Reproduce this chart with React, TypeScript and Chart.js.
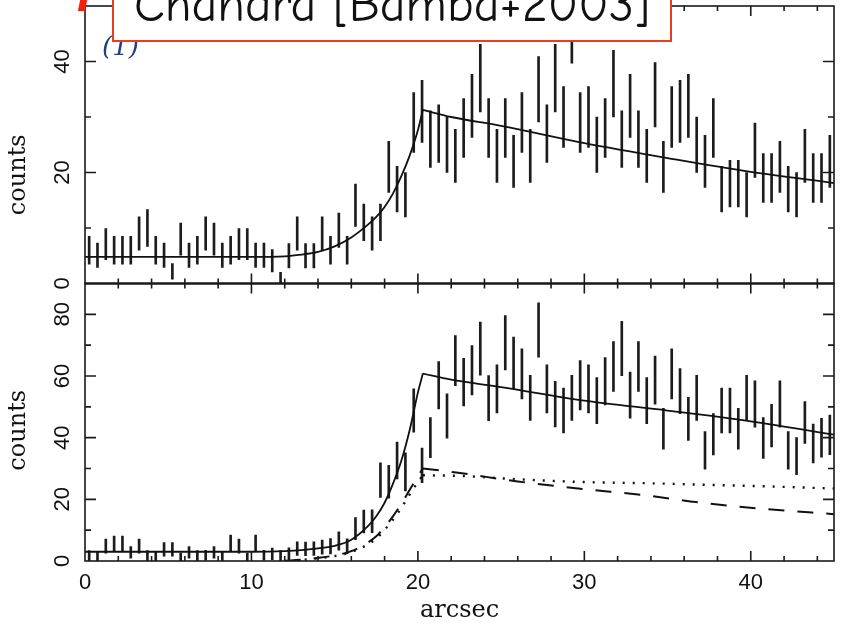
import React, { useEffect, useRef } from 'react';
import { Chart, registerables } from 'chart.js';

Chart.register(...registerables);

// ---- data ----
const binCenters = [
  0.25, 0.75, 1.25, 1.75, 2.25, 2.75, 3.25, 3.75, 4.25, 4.75,
  5.25, 5.75, 6.25, 6.75, 7.25, 7.75, 8.25, 8.75, 9.25, 9.75,
  10.25, 10.75, 11.25, 11.75, 12.25, 12.75, 13.25, 13.75, 14.25, 14.75,
  15.25, 15.75, 16.25, 16.75, 17.25, 17.75, 18.25, 18.75, 19.25, 19.75,
  20.25, 20.75, 21.25, 21.75, 22.25, 22.75, 23.25, 23.75, 24.25, 24.75,
  25.25, 25.75, 26.25, 26.75, 27.25, 27.75, 28.25, 28.75, 29.25, 29.75,
  30.25, 30.75, 31.25, 31.75, 32.25, 32.75, 33.25, 33.75, 34.25, 34.75,
  35.25, 35.75, 36.25, 36.75, 37.25, 37.75, 38.25, 38.75, 39.25, 39.75,
  40.25, 40.75, 41.25, 41.75, 42.25, 42.75, 43.25, 43.75, 44.25, 44.75,
];

const topCounts = [
  6.0, 5.1, 7.1, 6.0, 6.0, 6.0, 9.0, 10.0, 6.0, 5.1,
  2.2, 8.0, 5.1, 6.0, 9.0, 8.0, 5.1, 6.0, 7.1, 7.1,
  5.1, 5.1, 4.1, 1.0, 5.0, 9.0, 5.0, 5.0, 9.0, 6.0,
  9.6, 6.0, 14.1, 11.0, 9.0, 11.0, 21.0, 17.0, 16.0, 29.0,
  31.0, 26.0, 27.0, 25.0, 23.0, 28.0, 32.0, 37.0, 28.0, 23.0,
  28.0, 22.0, 29.0, 23.0, 35.0, 27.0, 37.0, 30.0, 46.5, 29.0,
  30.0, 25.0, 28.0, 36.0, 26.0, 32.0, 26.0, 23.0, 34.0, 21.0,
  30.0, 31.0, 32.0, 25.0, 22.0, 28.0, 17.0, 18.0, 18.0, 16.0,
  24.0, 19.0, 19.0, 21.0, 17.0, 16.0, 23.0, 19.0, 19.0, 22.0,
];
const topErrors = [
  2.5, 2.2, 2.8, 2.5, 2.5, 2.5, 3.0, 3.3, 2.5, 2.2,
  1.4, 2.9, 2.2, 2.5, 3.0, 2.9, 2.2, 2.5, 2.8, 2.8,
  2.2, 2.2, 2.0, 1.0, 2.2, 3.0, 2.2, 2.2, 3.0, 2.5,
  3.1, 2.5, 3.8, 3.3, 3.0, 3.3, 4.6, 4.1, 4.0, 5.4,
  5.6, 5.1, 5.2, 5.0, 4.8, 5.3, 5.7, 6.1, 5.3, 4.8,
  5.3, 4.7, 5.4, 4.8, 5.9, 5.2, 6.1, 5.5, 6.8, 5.4,
  5.5, 5.0, 5.3, 6.0, 5.1, 5.7, 5.1, 4.8, 5.8, 4.6,
  5.5, 5.6, 5.7, 5.0, 4.7, 5.3, 4.1, 4.2, 4.2, 4.0,
  4.9, 4.4, 4.4, 4.6, 4.1, 4.0, 4.8, 4.4, 4.4, 4.7,
];

const bottomCounts = [
  1.7, 1.5, 4.8, 5.6, 5.6, 2.8, 4.8, 1.7, 1.5, 3.8,
  3.8, 1.3, 2.8, 1.7, 1.9, 2.8, 1.5, 5.7, 4.8, 1.3,
  5.7, 1.9, 2.3, 1.7, 2.3, 4.0, 3.9, 4.0, 4.5, 4.8,
  6.5, 4.8, 10.5, 12.8, 12.9, 26.2, 25.7, 32.6, 28.9, 48.8,
  31.0, 40.0, 57.0, 47.0, 65.0, 58.0, 61.9, 68.9, 52.8, 55.8,
  70.8, 64.2, 60.7, 52.9, 74.9, 55.8, 50.9, 48.8, 52.9, 57.0,
  55.8, 52.0, 58.3, 63.1, 68.9, 53.8, 63.1, 52.0, 58.7, 42.9,
  60.7, 55.1, 46.1, 52.9, 35.9, 41.1, 48.8, 48.8, 42.9, 52.9,
  50.9, 39.9, 43.9, 50.9, 35.9, 34.0, 44.9, 38.1, 40.0, 40.9,
];
const bottomErrors = [
  1.7, 1.4, 2.3, 2.5, 2.5, 1.9, 2.3, 1.7, 1.4, 2.2,
  2.2, 1.3, 1.9, 1.7, 1.6, 1.9, 1.5, 2.7, 2.3, 1.3,
  2.7, 1.6, 1.9, 1.7, 2.0, 2.2, 2.2, 2.2, 2.3, 2.5,
  3.0, 2.4, 3.6, 3.7, 3.7, 5.6, 5.3, 6.0, 6.2, 7.0,
  5.6, 6.5, 7.7, 7.2, 8.1, 7.7, 8.0, 8.6, 7.3, 7.8,
  8.8, 8.4, 8.1, 7.3, 8.8, 7.8, 7.4, 7.3, 7.3, 8.0,
  7.8, 7.5, 7.7, 8.1, 8.8, 7.5, 8.1, 7.5, 7.8, 6.6,
  8.1, 7.3, 7.0, 7.3, 6.1, 6.7, 7.3, 7.3, 6.6, 7.3,
  7.5, 6.6, 6.9, 7.5, 6.1, 6.0, 6.8, 6.3, 6.3, 6.4,
];

// model curves (rising part up to the rim, then falling part)
const topRiseX = [0, 10, 12, 13, 14, 15, 16, 17, 17.5, 18, 18.5, 19, 19.5, 20, 20.3];
const topRiseY = [4.8, 4.8, 4.9, 5.2, 5.7, 6.7, 8.3, 10.6, 12.0, 13.8, 16.2, 19.3, 23.0, 27.6, 31.3];
const topFallX = [20.3, 22, 25, 30, 35, 40, 45];
const topFallY = [31.3, 30.0, 28.4, 25.3, 22.6, 20.1, 18.1];

const botRiseX = [0, 10, 12, 13, 14, 15, 16, 17, 17.5, 18, 18.5, 19, 19.5, 20, 20.3];
const botRiseY = [3.0, 3.0, 3.2, 3.5, 4.1, 4.9, 6.9, 11.3, 14.5, 18.9, 25.0, 32.4, 42.3, 54.6, 60.8];
const botFallX = [20.3, 22, 25, 30, 35, 40, 45];
const botFallY = [60.8, 58.8, 56.4, 52.0, 48.8, 45.3, 41.0];

const dashRiseX = [12, 13, 14, 15, 16, 17, 17.5, 18, 18.5, 19, 19.5, 20, 20.3];
const dashRiseY = [0, 0.4, 1.0, 1.8, 3.2, 6.0, 8.0, 11.0, 14.5, 18.5, 23.0, 27.5, 30.0];
const dashFallX = [20.3, 22.3, 26, 30, 33.5, 37, 41, 45];
const dashFallY = [30.0, 28.7, 25.8, 23.3, 21.4, 18.9, 16.8, 15.2];

const dotRiseX = [12, 13, 14, 15, 16, 17, 17.5, 18, 18.5, 19, 19.5, 20, 20.3];
const dotRiseY = [0, 0.35, 0.9, 1.6, 2.9, 5.4, 7.3, 10.1, 13.4, 17.2, 21.5, 25.6, 27.8];
const dotFallX = [20.3, 22.5, 26, 30, 34, 37.4, 41, 45];
const dotFallY = [27.8, 27.6, 26.5, 25.6, 25.2, 24.7, 24.2, 23.5];

// axis tick labels
const xTickLabels = ['0', '10', '20', '30', '40'];
const topYTickLabels = ['0', '20', '40'];
const bottomYTickLabels = ['0', '20', '40', '60', '80'];
const xAxisTitle = 'arcsec';
const yAxisTitle = 'counts';
const titleText = 'Chandra [Bamba+2003]';
const panelTag = '(1)';

const pts = (xs: number[], ys: number[]) => xs.map((x, i) => ({ x, y: ys[i] }));
const bars = (c: number[], e: number[]) =>
  binCenters.map((x, i) => ({ x, y: [c[i] - e[i], c[i] + e[i]] }));

const lineDs = (xs: number[], ys: number[], axis: string, dash: number[], width: number) => ({
  type: 'line' as const,
  data: pts(xs, ys),
  yAxisID: axis,
  borderColor: '#111',
  borderWidth: width,
  borderDash: dash,
  pointRadius: 0,
  cubicInterpolationMode: 'monotone' as const,
  fill: false,
  order: 0,
});

const framePlugin = {
  id: 'frameTicks',
  afterDraw(chart: any) {
    const { ctx, chartArea, scales } = chart;
    const xs = scales.x;
    const yt = scales.yTop;
    const yb = scales.yBot;
    const L = chartArea.left;
    const R = chartArea.right;
    const panels = [
      { s: yt, max: 50, major: 20, minor: 10, labels: topYTickLabels, labelShift: 30 },
      { s: yb, max: 90, major: 20, minor: 10, labels: bottomYTickLabels, labelShift: 8 },
    ];
    ctx.save();
    ctx.strokeStyle = '#1a1a1a';
    ctx.fillStyle = '#111';
    for (const p of panels) {
      const top = p.s.getPixelForValue(p.max);
      const bot = p.s.getPixelForValue(0);
      ctx.lineWidth = 1.6;
      ctx.strokeRect(L, top, R - L, bot - top);
      // x ticks (inward) on top and bottom edges
      for (let v = 2; v < 45; v += 2) {
        const px = xs.getPixelForValue(v);
        const len = v % 10 === 0 ? 10 : 5;
        ctx.beginPath();
        ctx.moveTo(px, bot);
        ctx.lineTo(px, bot - len);
        ctx.moveTo(px, top);
        ctx.lineTo(px, top + len);
        ctx.stroke();
      }
      // y ticks (inward) on both sides
      for (let v = p.minor; v < p.max; v += p.minor) {
        const py = p.s.getPixelForValue(v);
        const len = v % p.major === 0 ? 11 : 6;
        ctx.beginPath();
        ctx.moveTo(L, py);
        ctx.lineTo(L + len, py);
        ctx.moveTo(R, py);
        ctx.lineTo(R - len, py);
        ctx.stroke();
      }
      // y tick labels (rotated)
      ctx.font = '22px "Liberation Sans", Arial, sans-serif';
      ctx.textAlign = 'center';
      ctx.textBaseline = 'middle';
      for (const lab of p.labels) {
        const py = p.s.getPixelForValue(Number(lab));
        ctx.save();
        ctx.translate(L - 22, py);
        ctx.rotate(-Math.PI / 2);
        ctx.fillText(lab, 0, 0);
        ctx.restore();
      }
      // y title
      ctx.font = '24px "DejaVu Serif", serif';
      ctx.save();
      ctx.translate(19, (top + bot) / 2 + p.labelShift);
      ctx.rotate(-Math.PI / 2);
      ctx.fillText(yAxisTitle, 0, 0);
      ctx.restore();
    }
    // middle separator a bit heavier
    ctx.lineWidth = 2.2;
    ctx.beginPath();
    const mid = yt.getPixelForValue(0);
    ctx.moveTo(L, mid);
    ctx.lineTo(R, mid);
    ctx.stroke();
    // x tick labels
    const bottom = yb.getPixelForValue(0);
    ctx.font = '22px "Liberation Sans", Arial, sans-serif';
    ctx.textAlign = 'center';
    ctx.textBaseline = 'middle';
    for (const lab of xTickLabels) {
      ctx.fillText(lab, xs.getPixelForValue(Number(lab)), bottom + 22);
    }
    ctx.font = '24px "DejaVu Serif", serif';
    ctx.fillText(xAxisTitle, (L + R) / 2, bottom + 50);
    ctx.restore();
  },
};

export default function App() {
  const ref = useRef<HTMLCanvasElement | null>(null);
  useEffect(() => {
    if (!ref.current) return;
    const chart = new Chart(ref.current, {
      type: 'line',
      data: {
        datasets: [
          {
            type: 'bar',
            data: bars(topCounts, topErrors) as any,
            yAxisID: 'yTop',
            backgroundColor: '#1c1c1c',
            barThickness: 2,
            grouped: false,
            order: 1,
          } as any,
          {
            type: 'bar',
            data: bars(bottomCounts, bottomErrors) as any,
            yAxisID: 'yBot',
            backgroundColor: '#1c1c1c',
            barThickness: 2,
            grouped: false,
            order: 1,
          } as any,
          lineDs(topRiseX, topRiseY, 'yTop', [], 1.8),
          lineDs(topFallX, topFallY, 'yTop', [], 1.8),
          lineDs(botRiseX, botRiseY, 'yBot', [], 1.8),
          lineDs(botFallX, botFallY, 'yBot', [], 1.8),
          lineDs(dashRiseX, dashRiseY, 'yBot', [16, 13], 2),
          lineDs(dashFallX, dashFallY, 'yBot', [16, 13], 2),
          lineDs(dotRiseX, dotRiseY, 'yBot', [2, 8], 2.4),
          lineDs(dotFallX, dotFallY, 'yBot', [2, 8], 2.4),
        ] as any,
      },
      options: {
        responsive: false,
        animation: false,
        devicePixelRatio: 1,
        layout: { padding: { left: 85, top: 6, right: 9, bottom: 68 } },
        plugins: { legend: { display: false }, tooltip: { enabled: false }, title: { display: false } },
        scales: {
          x: {
            type: 'linear', min: 0, max: 45, offset: false,
            ticks: { display: false }, grid: { display: false }, border: { display: false },
            afterFit: (s: any) => { s.height = 0; },
          },
          yBot: {
            type: 'linear', position: 'left', stack: 'panels', stackWeight: 1, min: 0, max: 90,
            ticks: { display: false }, grid: { display: false }, border: { display: false },
            afterFit: (s: any) => { s.width = 0; },
          },
          yTop: {
            type: 'linear', position: 'left', stack: 'panels', stackWeight: 1, min: 0, max: 50,
            ticks: { display: false }, grid: { display: false }, border: { display: false },
            afterFit: (s: any) => { s.width = 0; },
          },
        } as any,
      },
      plugins: [framePlugin],
    });
    return () => chart.destroy();
  }, []);

  return (
    <div style={{ position: 'fixed', left: 0, top: 0, width: 843, height: 629, background: '#fff', overflow: 'hidden' }}>
      <canvas ref={ref} width={843} height={629} style={{ display: 'block', width: 843, height: 629 }} />
      <div style={{ position: 'absolute', left: 79, top: 0, width: 7, height: 11, background: '#f0220c', transform: 'skewX(-12deg)' }} />
      <div
        style={{
          position: 'absolute', left: 102, top: 31, fontFamily: '"DejaVu Serif", serif', fontStyle: 'italic',
          fontSize: 26, lineHeight: '30px', color: '#23407f', whiteSpace: 'nowrap',
        }}
      >
        {panelTag}
      </div>
      <div
        style={{
          position: 'absolute', left: 112, top: -22, width: 560, height: 64, boxSizing: 'border-box',
          border: '2px solid #f03a1c', background: '#fff',
        }}
      />
      <div
        style={{
          position: 'absolute', left: 112, top: -20, width: 560, textAlign: 'center',
          fontFamily: '"Comic Sans MS", "Comic Neue", "DejaVu Sans", sans-serif', fontSize: 50, lineHeight: '50px',
          color: '#111', whiteSpace: 'nowrap',
        }}
      >
        {titleText}
      </div>
    </div>
  );
}
